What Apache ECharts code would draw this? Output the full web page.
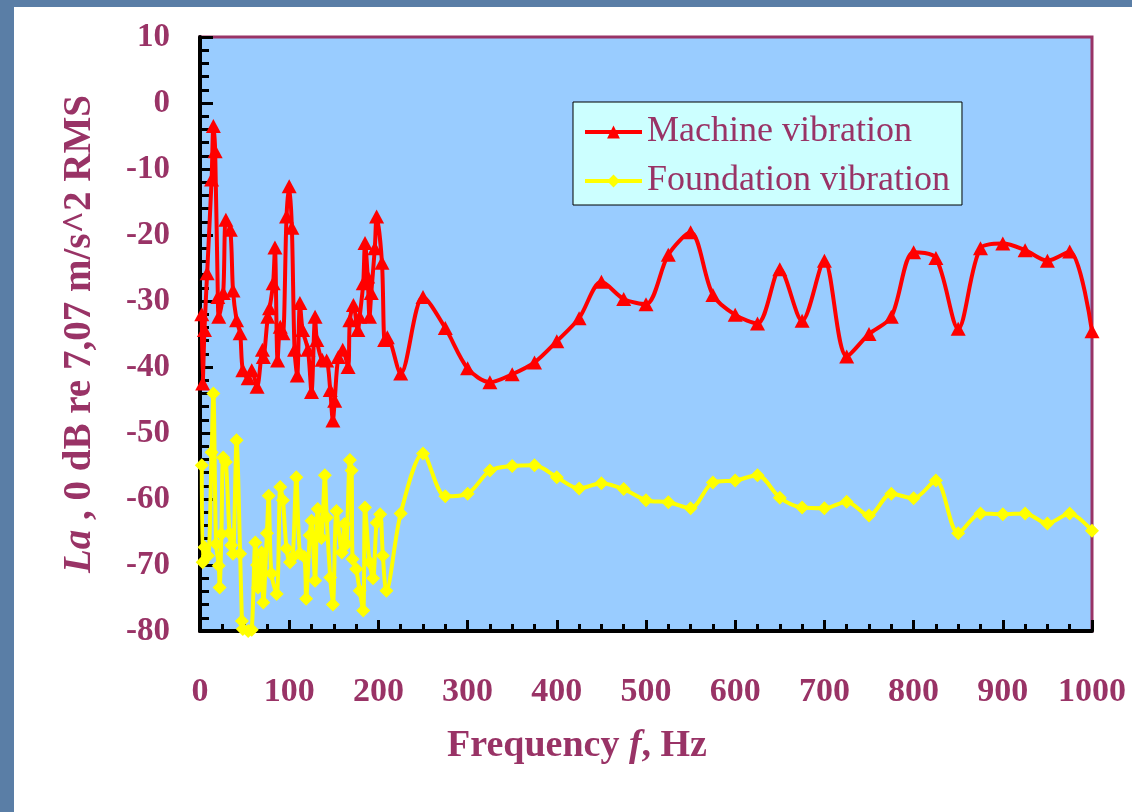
<!DOCTYPE html>
<html>
<head>
<meta charset="utf-8">
<script src="https://cdn.jsdelivr.net/npm/echarts@6/dist/echarts.min.js"></script>
<style>
  html, body { margin: 0; padding: 0; }
  body { width: 1132px; height: 812px; background: #5a7ea6; position: relative; overflow: hidden; }
  #paper { position: absolute; left: 14px; top: 7px; right: 0; bottom: 0; background: #fff; }
  #main { position: absolute; left: 0; top: 0; width: 1132px; height: 812px; }
</style>
</head>
<body>
<div id="paper"></div>
<div id="main"></div>
<script>
// Machine vibration (red, triangles)
const machineFreq = [2, 3, 5, 8, 13, 15, 17, 20, 21, 26, 29, 34, 37, 41, 45, 48, 54, 58, 64, 70,
  71, 76, 78, 82, 84, 87, 90, 93, 97, 100, 103, 106, 109, 112, 115, 121, 125, 129, 131, 137,
  142, 146, 149, 151, 155, 160, 166, 168, 172, 177, 179, 183, 185, 188, 190, 192, 196, 198, 204, 207,
  210, 225, 250, 275, 300, 325, 350, 375, 400, 425, 450, 475, 500, 525, 550, 575, 600, 625, 650, 675,
  700, 725, 750, 775, 800, 825, 850, 875, 900, 925, 950, 975, 1000];
const machineLevel = [-32, -42.5, -34.4, -25.8, -11.6, -3.5, -7.3, -29.4, -32.4, -28.8, -17.7, -19.2, -28.4, -32.9, -34.9, -40.5, -41.7, -40.5, -43, -37.4,
  -38.5, -32.4, -31.1, -27.3, -21.9, -39, -33.9, -34.9, -17.2, -12.6, -18.9, -37.4, -41.3, -30.3, -34.4, -37.4, -43.8, -32.4, -35.9, -38.9,
  -39, -43.5, -48.1, -45.1, -38.5, -37.4, -40, -32.9, -30.6, -34.4, -32.4, -27.3, -21.2, -26.3, -32.4, -28.8, -22, -17.2, -24.2, -35.9,
  -35.5, -41, -29.4, -34.1, -40.2, -42.3, -41.1, -39.3, -36.1, -32.6, -27.1, -29.7, -30.5, -23, -19.6, -29.1, -32.1, -33.4, -25.2, -33,
  -23.9, -38.4, -35, -32.4, -22.6, -23.5, -34.2, -22, -21.3, -22.3, -23.9, -22.5, -34.6];

// Foundation vibration (yellow, diamonds)
const foundationFreq = [2, 3, 5, 9, 13, 15, 18, 21, 22, 24, 26, 29, 33, 35, 37, 41, 45, 47, 48, 54,
  58, 62, 64, 65, 69, 71, 75, 77, 80, 86, 90, 93, 97, 101, 104, 108, 112, 117, 119, 123,
  125, 129, 132, 136, 140, 142, 146, 149, 153, 159, 162, 164, 168, 170, 171, 175, 179, 183, 185, 190,
  194, 198, 202, 205, 209, 225, 250, 275, 300, 325, 350, 375, 400, 425, 450, 475, 500, 525, 550, 575,
  600, 625, 650, 675, 700, 725, 750, 775, 800, 825, 850, 875, 900, 925, 950, 975, 1000];
const foundationLevel = [-54.9, -69.6, -67.3, -68.6, -52.9, -44, -66.8, -70.1, -73.4, -65.3, -53.7, -54.4, -65.2, -67, -68.3, -51.1, -68.3, -78.5, -79.7, -80,
  -79.8, -66.6, -70, -73.4, -68.1, -75.7, -65.2, -59.5, -71.3, -74.4, -58.2, -60.2, -67.5, -69.6, -68.8, -56.7, -68.3, -68.8, -75.1, -65.5,
  -63.3, -72.4, -61.5, -65.9, -56.4, -62.8, -71.9, -76, -61.8, -68.1, -63.8, -66.8, -54.1, -55.7, -69.1, -70.6, -73.9, -76.9, -61.3, -69.6,
  -72, -63.6, -62.3, -68.6, -73.9, -62.2, -53.1, -59.6, -59.2, -55.7, -55, -54.9, -56.7, -58.4, -57.6, -58.5, -60.2, -60.5, -61.4, -57.5,
  -57.2, -56.4, -59.8, -61.3, -61.4, -60.4, -62.5, -59.2, -59.9, -57.2, -65.2, -62.2, -62.3, -62.2, -63.7, -62.2, -64.8];

const maroon = '#993366';
const serif = 'Liberation Serif';

let option = {
  animation: false,
  grid: {
    left: 200, top: 37, width: 892, height: 594,
    show: true,
    backgroundColor: '#99CCFF',
    borderColor: maroon,
    borderWidth: 3
  },
  legend: {
    orient: 'vertical',
    left: 573, top: 102,
    backgroundColor: '#CCFFFF',
    borderColor: '#000',
    borderWidth: 1,
    padding: [11, 12, 5, 10],
    itemWidth: 57,
    itemHeight: 16,
    itemGap: 11,
    lineStyle: { width: 4 },
    textStyle: { fontFamily: serif, fontSize: 36, color: maroon, lineHeight: 38 },
    data: ['Machine vibration', 'Foundation vibration']
  },
  xAxis: {
    type: 'value',
    min: 0, max: 1000, interval: 100,
    axisLine: { onZero: false, lineStyle: { color: '#000', width: 4 } },
    axisTick: { inside: true, length: 11, lineStyle: { color: '#000', width: 3 } },
    minorTick: { show: true, splitNumber: 4, length: 7, lineStyle: { color: '#000', width: 3 } },
    splitLine: { show: false },
    axisLabel: {
      margin: 44, fontFamily: serif, fontSize: 34, fontWeight: 'bold', color: maroon,
      formatter: v => String(v)
    }
  },
  yAxis: {
    type: 'value',
    min: -80, max: 10, interval: 10,
    axisLine: { show: true, onZero: false, lineStyle: { color: '#000', width: 4 } },
    axisTick: { show: true, inside: true, length: 13, lineStyle: { color: '#000', width: 3 } },
    minorTick: { show: true, splitNumber: 5, length: 9, lineStyle: { color: '#000', width: 3 } },
    splitLine: { show: false },
    axisLabel: { margin: 30, fontFamily: serif, fontSize: 33, fontWeight: 'bold', color: maroon },
    name: '{i|La}{b| , 0 dB re 7,07 m/s^2 RMS}',
    nameLocation: 'middle',
    nameGap: 101,
    nameTextStyle: {
      rich: {
        i: { fontFamily: serif, fontSize: 39, fontWeight: 'bold', fontStyle: 'italic', color: maroon },
        b: { fontFamily: serif, fontSize: 39, fontWeight: 'bold', color: maroon }
      }
    }
  },
  graphic: [{
    type: 'text',
    x: 577, y: 746,
    style: {
      text: '{b|Frequency }{i|f}{b|, Hz}',
      align: 'center', verticalAlign: 'middle',
      rich: {
        i: { fontFamily: serif, fontSize: 38, fontWeight: 'bold', fontStyle: 'italic', fill: maroon },
        b: { fontFamily: serif, fontSize: 38, fontWeight: 'bold', fill: maroon }
      }
    }
  }],
  series: [
    {
      name: 'Machine vibration',
      type: 'line',
      smooth: 0.3,
      symbol: 'triangle',
      symbolSize: [15, 14],
      itemStyle: { color: '#FF0000' },
      lineStyle: { color: '#FF0000', width: 4 },
      data: machineFreq.map((f, i) => [f, machineLevel[i]])
    },
    {
      name: 'Foundation vibration',
      type: 'line',
      smooth: 0.3,
      symbol: 'diamond',
      symbolSize: 14,
      itemStyle: { color: '#FFFF00' },
      lineStyle: { color: '#FFFF00', width: 4 },
      data: foundationFreq.map((f, i) => [f, foundationLevel[i]])
    }
  ]
};

let chart = echarts.init(document.getElementById('main'));
chart.setOption(option);
</script>
</body>
</html>
